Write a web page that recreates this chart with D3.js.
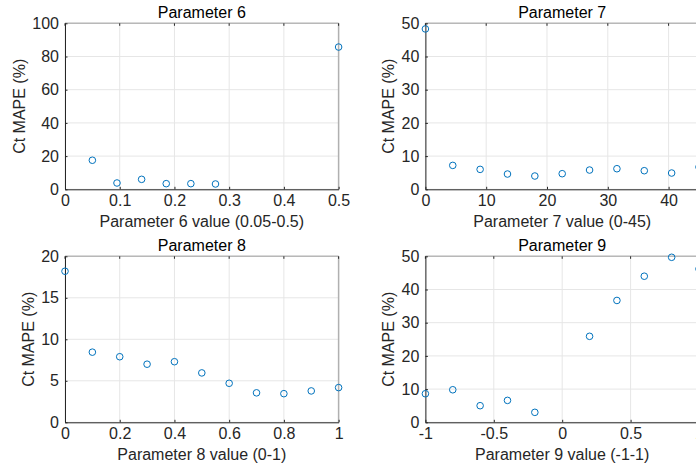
<!DOCTYPE html>
<html><head><meta charset="utf-8">
<script src="https://cdn.jsdelivr.net/npm/d3@7"></script>
<style>
body{margin:0;background:#fff;}
svg{display:block;font-family:"Liberation Sans",Arial,sans-serif;}
</style></head><body>
<svg id="c" width="696" height="466"></svg>
<script>
// Data
const p6X = [0.05, 0.095, 0.14, 0.185, 0.23, 0.275, 0.5];
const p6Y = [17.5, 3.8, 6.0, 3.4, 3.4, 3.2, 85.7];
const p7X = [0, 4.5, 9, 13.5, 18, 22.5, 27, 31.5, 36, 40.5, 45];
const p7Y = [48.3, 7.2, 6.0, 4.6, 4.0, 4.7, 5.8, 6.2, 5.6, 4.9, 6.7];
const p8X = [0, 0.1, 0.2, 0.3, 0.4, 0.5, 0.6, 0.7, 0.8, 0.9, 1.0];
const p8Y = [18.2, 8.45, 7.9, 7.0, 7.3, 5.95, 4.7, 3.55, 3.45, 3.78, 4.18];
const p9X = [-1, -0.8, -0.6, -0.4, -0.2, 0.2, 0.4, 0.6, 0.8, 1.0];
const p9Y = [8.6, 9.8, 5.0, 6.6, 3.0, 25.9, 36.7, 44.0, 49.7, 46.2];

const p6XTicks = [0, 0.1, 0.2, 0.3, 0.4, 0.5];
const p6YTicks = [0, 20, 40, 60, 80, 100];
const p7XTicks = [0, 10, 20, 30, 40];
const p7YTicks = [0, 10, 20, 30, 40, 50];
const p8XTicks = [0, 0.2, 0.4, 0.6, 0.8, 1];
const p8YTicks = [0, 5, 10, 15, 20];
const p9XTicks = [-1, -0.5, 0, 0.5, 1];
const p9YTicks = [0, 10, 20, 30, 40, 50];

const titles = ["Parameter 6", "Parameter 7", "Parameter 8", "Parameter 9"];
const xLabels = ["Parameter 6 value (0.05-0.5)", "Parameter 7 value (0-45)", "Parameter 8 value (0-1)", "Parameter 9 value (-1-1)"];
const yLabel = "Ct MAPE (%)";

const panels = [
  {x: p6X, y: p6Y, xd: [0, 0.5], yd: [0, 100], xt: p6XTicks, yt: p6YTicks, left: 65, top: 23.3},
  {x: p7X, y: p7Y, xd: [0, 45], yd: [0, 50], xt: p7XTicks, yt: p7YTicks, left: 425.4, top: 23.3},
  {x: p8X, y: p8Y, xd: [0, 1], yd: [0, 20], xt: p8XTicks, yt: p8YTicks, left: 65, top: 256.3},
  {x: p9X, y: p9Y, xd: [-1, 1], yd: [0, 50], xt: p9XTicks, yt: p9YTicks, left: 425.4, top: 256.3}
];
const W = 273.6, H = 166;
const svg = d3.select("#c");
const fs = 16;
const fmt = d => String(d);

panels.forEach((p, i) => {
  const g = svg.append("g").attr("transform", `translate(${p.left},${p.top})`);
  const x = d3.scaleLinear().domain(p.xd).range([0, W]);
  const y = d3.scaleLinear().domain(p.yd).range([H, 0]);
  // grid
  g.append("g").selectAll("line").data(p.xt).join("line")
    .attr("x1", d => x(d)).attr("x2", d => x(d)).attr("y1", 0).attr("y2", H)
    .attr("stroke", "#e6e6e6").attr("stroke-width", 1);
  g.append("g").selectAll("line").data(p.yt).join("line")
    .attr("x1", 0).attr("x2", W).attr("y1", d => y(d)).attr("y2", d => y(d))
    .attr("stroke", "#e6e6e6").attr("stroke-width", 1);
  // top & right box edges (light)
  g.append("line").attr("x1", 0).attr("x2", W).attr("y1", 0).attr("y2", 0)
    .attr("stroke", "#b8b8b8").attr("stroke-width", 1.5);
  g.append("line").attr("x1", W).attr("x2", W).attr("y1", 0).attr("y2", H)
    .attr("stroke", "#b0b0b0").attr("stroke-width", 1.5);
  // top ticks (inner)
  g.append("g").selectAll("line").data(p.xt).join("line")
    .attr("x1", d => x(d)).attr("x2", d => x(d)).attr("y1", 0).attr("y2", 2.5)
    .attr("stroke", "#262626").attr("stroke-width", 1);
  // axes
  const xa = g.append("g").attr("transform", `translate(0,${H})`)
    .call(d3.axisBottom(x).tickValues(p.xt).tickFormat(fmt).tickSizeInner(-2.5).tickSizeOuter(0).tickPadding(5.5));
  const ya = g.append("g")
    .call(d3.axisLeft(y).tickValues(p.yt).tickFormat(fmt).tickSizeInner(-2.5).tickSizeOuter(0).tickPadding(6));
  [xa, ya].forEach(a => {
    a.select(".domain").attr("stroke", "#262626").attr("stroke-width", 1);
    a.selectAll(".tick line").attr("stroke", "#262626");
    a.selectAll("text").attr("fill", "#262626").attr("font-size", fs).attr("font-family", "Liberation Sans, Arial, sans-serif");
  });
  xa.selectAll("text").attr("dy", "0.71em");
  // points
  g.append("g").selectAll("circle").data(p.x.map((v, k) => [v, p.y[k]])).join("circle")
    .attr("cx", d => x(d[0])).attr("cy", d => y(d[1])).attr("r", 3.3)
    .attr("fill", "none").attr("stroke", "#0072BD").attr("stroke-width", 1);
  // title
  g.append("text").attr("x", W / 2).attr("y", -5.5).attr("text-anchor", "middle")
    .attr("font-size", fs).attr("fill", "#000").text(titles[i]);
  // x label
  g.append("text").attr("x", W / 2).attr("y", H + 38).attr("text-anchor", "middle")
    .attr("font-size", fs).attr("fill", "#262626").text(xLabels[i]);
  // y label: offset depends on widest tick label
  const maxChars = d3.max(p.yt, d => fmt(d).length);
  const off = 6 + maxChars * fs * 0.556 + 7.5;
  g.append("text").attr("transform", `translate(${-off},${H / 2}) rotate(-90)`).attr("text-anchor", "middle")
    .attr("font-size", fs).attr("fill", "#262626").text(yLabel);
});
</script>
</body></html>
